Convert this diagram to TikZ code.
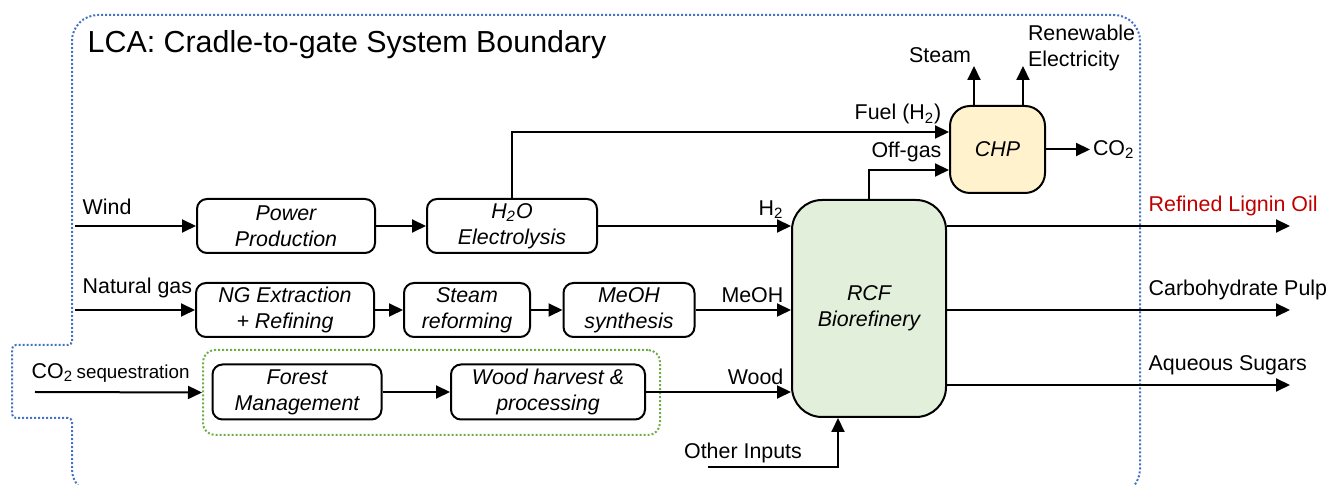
\documentclass[tikz,border=0pt]{standalone}
\usepackage{fontspec}
\setmainfont{Liberation Sans}
\usetikzlibrary{arrows.meta,positioning,calc}
\definecolor{bndblue}{HTML}{4472C4}
\definecolor{grpgreen}{HTML}{70AD47}
\definecolor{rcfgreen}{HTML}{E2EFDA}
\definecolor{chpyellow}{HTML}{FFF2CC}
\definecolor{lignred}{HTML}{C00000}

\begin{document}
\begin{tikzpicture}[x=0.5pt,y=-0.5pt,line width=1pt,
				every node/.style={font=\fontsize{10.7}{13}\selectfont},
				proc/.style={draw,rounded corners=5pt,align=center,minimum height=27pt,inner sep=2pt,
					font=\fontsize{10.7}{13}\selectfont\itshape},
				flow/.style={-{Triangle[length=7pt,width=6.5pt]}},
				bnd/.style={draw=bndblue,dash pattern=on 1pt off 1pt},
				grpbox/.style={draw=grpgreen,dash pattern=on 1pt off 1pt,rounded corners=6pt}]
				\useasboundingbox (0,0) rectangle (1328,485);
				% system boundary
				\draw[bnd] (72,345) [rounded corners=13pt] -- (72,15) -- (1140,15) -- (1140,495) -- (72,495)
					[rounded corners=2pt] -- (72,418) -- (12,418) -- (12,345) -- cycle;
				\node[anchor=west,font=\fontsize{15.2}{18}\selectfont] (ttl) at (80,45) {LCA: Cradle-to-gate System Boundary};
				% process blocks
				\node[proc,minimum width=89pt] (pow) at (286,226) {Power\\Production};
				\node[proc,minimum width=85pt] (ely) at (512,226) {H\textsubscript{2}O\\Electrolysis};
				\node[proc,minimum width=89pt] (ngx) at (285,310) {NG Extraction\\+ Refining};
				\node[proc,minimum width=63pt] (smr) at (467,310) {Steam\\reforming};
				\node[proc,minimum width=65.5pt] (meoh) at (629,310) {MeOH\\synthesis};
				\node[grpbox,minimum width=228.5pt,minimum height=42.5pt] (wdgrp) at (431.5,392.5) {};
				\node[proc,minimum width=84.5pt,minimum height=27.5pt] (fst) at (297,392) {Forest\\Management};
				\node[proc,minimum width=97pt,minimum height=27.5pt] (whp) at (548,392) {Wood harvest \&\\processing};
				\node[proc,rounded corners=15pt,fill=rcfgreen,minimum width=77pt,minimum height=108.5pt] (rcf) at (869,308.5) {RCF\\Biorefinery};
				\node[proc,rounded corners=10pt,fill=chpyellow,minimum width=47.5pt,minimum height=43.5pt] (chp) at (997.5,149.5) {CHP};
				% inputs
				\coordinate (wnd) at (75,226);
				\coordinate (ngin) at (75,310);
				\coordinate (seqin) at (35,392);
				\coordinate (oin) at (708,467);
				\node[anchor=south west,yshift=2pt] at (wnd) {Wind};
				\node[anchor=south west,yshift=2pt] at (ngin) {Natural gas};
				\node[anchor=south west,yshift=1pt] at (24,392) {CO\textsubscript{2}\,{\fontsize{9.4}{11}\selectfont sequestration}};
				\node (othtxt) at (743,453) {Other Inputs};
				\draw[flow] (wnd) -- (pow);
				\draw[flow] (pow) -- (ely);
				\draw[flow] (ely) -- (ely -| rcf.west) node[pos=1,above left] {H\textsubscript{2}};
				\draw[flow] (ngin) -- (ngx);
				\draw[flow] (ngx) -- (smr);
				\draw[flow] (smr) -- (meoh);
				\draw[flow] (meoh) -- (meoh -| rcf.west) node[pos=1,above left] {MeOH};
				\draw[flow] (seqin) -- (wdgrp.west);
				\draw[flow] (fst) -- (whp);
				\draw[flow] (whp) -- (whp -| rcf.west) node[pos=1,above left] {Wood};
				\draw[flow] (oin) -| ($(rcf.south)+(-31,0)$);
				% CHP streams
				\draw[flow] (ely.north) |- ($(chp.west)+(0,-17.5)$) node[pos=1,above left] {Fuel (H\textsubscript{2})};
				\draw[flow] (rcf.north) |- ($(chp.west)+(0,20.5)$) node[pos=1,above left] {Off-gas};
				\coordinate (stm) at (974,66);
				\coordinate (ele) at (1023,66);
				\coordinate (cout) at (1090,149.5);
				\draw[flow] (chp.north -| stm) -- (stm) node[anchor=south east,inner sep=1pt] {Steam};
				\draw[flow] (chp.north -| ele) -- (ele);
				\node[anchor=west,align=left,inner sep=1pt] (eletxt) at (1025,48) {Renewable\\Electricity};
				\draw[flow] (chp) -- (cout) node[right,inner sep=1pt] {CO\textsubscript{2}};
				% products
				\coordinate (rlo) at (1290,226);
				\coordinate (cpu) at (1290,310);
				\coordinate (aqs) at (1290,385);
				\draw[flow] (rcf.east |- rlo) -- (rlo);
				\draw[flow] (rcf.east |- cpu) -- (cpu);
				\draw[flow] (rcf.east |- aqs) -- (aqs);
				\node[anchor=south west,text=lignred,yshift=1pt] (rlotxt) at (1141,226) {Refined Lignin Oil};
				\node[anchor=south west,yshift=1pt] (cputxt) at (1141,310) {Carbohydrate Pulp};
				\node[anchor=south west,yshift=1pt] (aqstxt) at (1141,385) {Aqueous Sugars};
			\end{tikzpicture}
\end{document}
